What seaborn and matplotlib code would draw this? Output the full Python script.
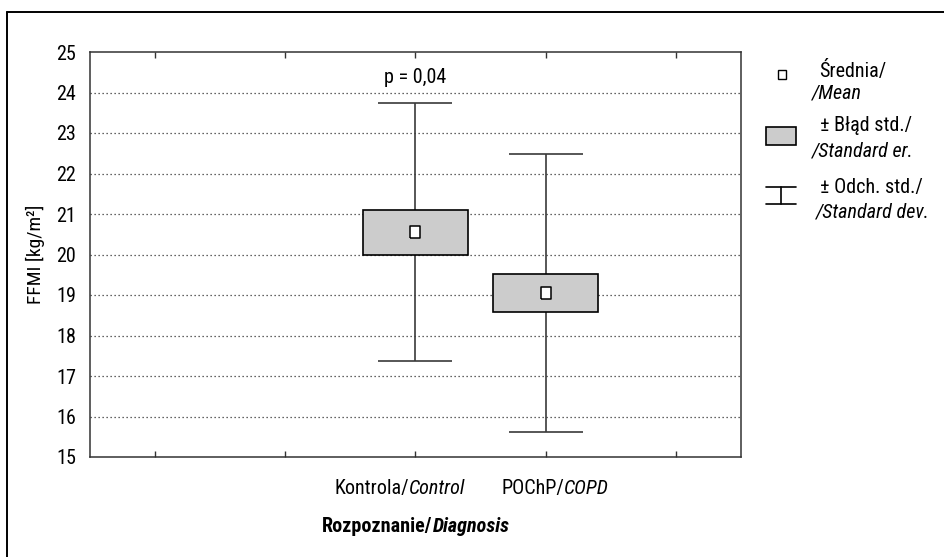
import matplotlib
matplotlib.use("Agg")
import matplotlib.pyplot as plt
from matplotlib.lines import Line2D
from matplotlib.patches import Rectangle
import seaborn as sns
import pandas as pd
import numpy as np

# ---- data ----
groups = ["Kontrola/Control", "POChP/COPD"]
means = [20.55, 19.05]
std_err = [0.56, 0.47]
std_dev = [3.18, 3.44]
y_ticks = [15, 16, 17, 18, 19, 20, 21, 22, 23, 24, 25]
p_text = "p = 0,04"

sns.set_style("white")
plt.rcParams["font.family"] = ["Roboto Condensed", "DejaVu Sans"]
FS = 14.5

W, H = 945, 557
fig = plt.figure(figsize=(W / 100, H / 100), dpi=100)
ax = fig.add_axes([90 / W, 1 - 457 / H, (741 - 90) / W, (457 - 52) / H])

xpos = np.arange(len(groups))
df = pd.DataFrame({"x": xpos, "mean": means, "se": std_err, "sd": std_dev})

# SD whiskers
ax.errorbar(df["x"], df["mean"], yerr=df["sd"], fmt="none", ecolor="#3a3a3a",
            elinewidth=1.2, capsize=26.5, capthick=1.2, zorder=2)
# SE boxes
ax.bar(df["x"], 2 * df["se"], bottom=df["mean"] - df["se"], width=0.806,
       color="#cccccc", edgecolor="black", linewidth=1.2, zorder=3)
# means
rect_marker = [(-0.72, -1), (0.72, -1), (0.72, 1), (-0.72, 1), (-0.72, -1)]
sns.scatterplot(data=df, x="x", y="mean", marker=rect_marker, s=85, color="white",
                edgecolor="black", linewidth=1.1, ax=ax, zorder=4, legend=False)

ax.set_xlim(-2.5, 2.5)
ax.set_ylim(15, 25)
ax.set_xticks([-2, -1, 0, 1, 2])
ax.set_xticklabels([])
ax.set_yticks(y_ticks)
ax.set_yticklabels([str(t) for t in y_ticks], fontsize=FS)
ax.tick_params(axis="x", direction="in", length=4, width=1, top=True, bottom=True, color="#333")
ax.tick_params(axis="y", length=0, pad=10, labelcolor="black")
for s in ax.spines.values():
    s.set_color("#333333")
    s.set_linewidth(1.1)
    s.set_visible(True)
for t in y_ticks[1:-1]:
    ax.axhline(t, color="#333333", linestyle=(0, (1, 2.2)), linewidth=0.9, zorder=1)
ax.set_xlabel("")
ax.set_ylabel("FFMI [kg/m²]", fontsize=FS - 0.5, labelpad=8, color="black")

ax.text(0, 24.36, p_text, ha="center", va="center", fontsize=FS, color="black")

renderer = fig.canvas.get_renderer()


def rich(x_px, base_px, pieces, ha="left", size=FS):
    texts = []
    for s, style, weight in pieces:
        t = fig.text(0, 1 - base_px / H, s, fontsize=size, style=style, weight=weight,
                     va="baseline", ha="left", color="black")
        texts.append(t)
    widths = [t.get_window_extent(renderer).width for t in texts]
    total = sum(widths)
    start = x_px - (total / 2 if ha == "center" else 0)
    cur = start
    for t, w in zip(texts, widths):
        t.set_x(cur / W)
        cur += w


# category labels
rich(400, 494, [("Kontrola/", "normal", "normal"), ("Control", "italic", "normal")], ha="center")
rich(555, 494, [("POChP/", "normal", "normal"), ("COPD", "italic", "normal")], ha="center")
# x axis title
rich(416, 532, [("Rozpoznanie/", "normal", "bold"), ("Diagnosis", "italic", "bold")], ha="center")

# legend
rich(819, 77, [("Średnia/", "normal", "normal")])
rich(812, 98, [("/Mean", "italic", "normal")])
rich(820, 131, [("± Błąd std./", "normal", "normal")])
rich(812, 156, [("/Standard er.", "italic", "normal")])
rich(820, 193, [("± Odch. std./", "normal", "normal")])
rich(816, 218, [("/Standard dev.", "italic", "normal")])


def px(x, y):
    return x / W, 1 - y / H


# legend glyphs
fig.add_artist(Rectangle(px(778, 79), 8 / W, 9 / H, facecolor="white", edgecolor="black",
                         linewidth=1, transform=fig.transFigure))
fig.add_artist(Rectangle(px(766, 145), 30 / W, 18 / H, facecolor="#cccccc", edgecolor="black",
                         linewidth=1.2, transform=fig.transFigure))
for yy in (187, 204):
    fig.add_artist(Line2D([766 / W, 796 / W], [1 - yy / H] * 2, color="black", linewidth=1.2,
                          transform=fig.transFigure))
fig.add_artist(Line2D([781 / W, 781 / W], [1 - 187 / H, 1 - 204 / H], color="black", linewidth=1.2,
                      transform=fig.transFigure))

# outer frame (left and top lines)
fig.add_artist(Line2D([7 / W, 7 / W], [1 - 12 / H, 0], color="black", linewidth=1.4,
                      transform=fig.transFigure))
fig.add_artist(Line2D([7 / W, 1], [1 - 12 / H, 1 - 12 / H], color="black", linewidth=1.4,
                      transform=fig.transFigure))

fig.savefig("out.png", dpi=100)
